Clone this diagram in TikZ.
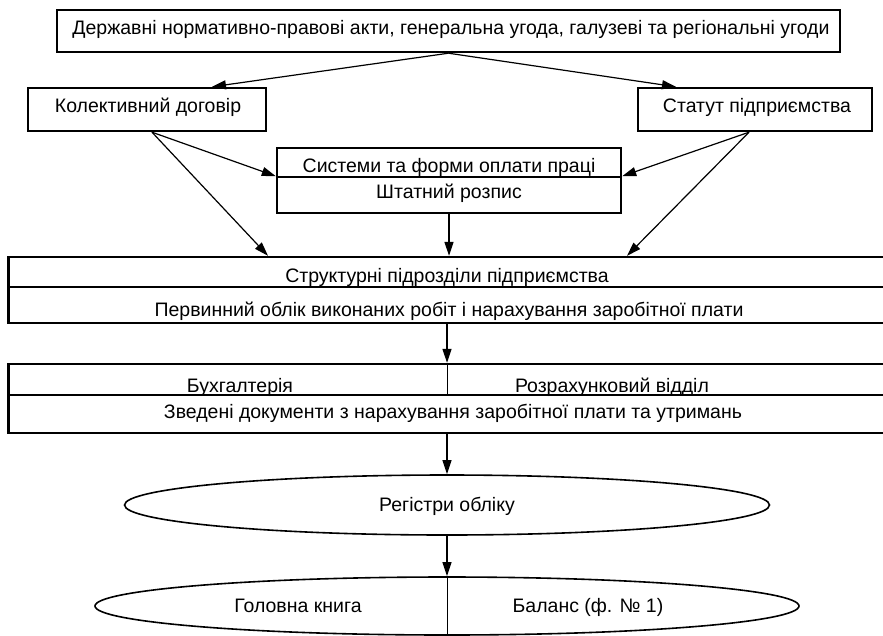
\documentclass[tikz,border=0pt]{standalone}
\usepackage{fontspec}
\setmainfont{Liberation Sans}
\usetikzlibrary{arrows.meta,shapes.geometric}
\begin{document}
\begin{tikzpicture}[x=1pt,y=-1pt,
  box/.style={draw, line width=2.4pt, inner sep=0pt, rectangle},
  ell/.style={draw, ellipse, line width=1.6pt, inner sep=0pt},
  arr/.style={-{Triangle[length=14pt,width=9pt]}, line width=1.2pt},
  divline/.style={line width=1pt},
  txt/.style={inner sep=0pt, anchor=base, font=\fontsize{19.5}{22}\selectfont}]
\useasboundingbox[fill=white] (0,0) rectangle (883,635);
% boxes
\node[box, minimum width=783pt, minimum height=42pt] (top) at (448.5,31) {};
\node[box, minimum width=238pt, minimum height=43pt] (kol) at (147,109.5) {};
\node[box, minimum width=234pt, minimum height=43pt] (stat) at (755,109.5) {};
\node[box, minimum width=344pt, minimum height=29pt] (sys1) at (449,162.5) {};
\node[box, minimum width=344pt, minimum height=36pt] (sys2) at (449,195) {};
\node[box, minimum width=877pt, minimum height=30pt] (str1) at (447,272) {};
\node[box, minimum width=877pt, minimum height=36pt] (str2) at (447,305) {};
\node[box, minimum width=877pt, minimum height=31pt] (buh1) at (447,379.5) {};
\node[box, minimum width=877pt, minimum height=38pt] (buh2) at (447,414) {};
\node[ell, minimum width=645pt, minimum height=60pt] (reg) at (447,505) {};
\node[ell, minimum width=704pt, minimum height=58pt] (gol) at (447,606) {};
% texts
\node[txt] at (451,34) {Державні нормативно-правові акти, генеральна угода, галузеві та регіональні угоди};
\node[txt] at (148,112) {Колективний договір};
\node[txt] at (757,112) {Статут підприємства};
\node[txt] at (449,172) {Системи та форми оплати праці};
\node[txt] at (449,198) {Штатний розпис};
\node[txt] at (447,282) {Структурні підрозділи підприємства};
\node[txt] at (449,316) {Первинний облік виконаних робіт і нарахування заробітної плати};
\node[txt] at (240,392) {Бухгалтерія};
\node[txt] at (612,392) {Розрахунковий відділ};
\node[txt] at (453,418) {Зведені документи з нарахування заробітної плати та утримань};
\node[txt] at (447,511) {Регістри обліку};
\node[txt] at (298,612) {Головна книга};
\node[txt] at (588,612) {Баланс (ф. № 1)};
% dividers
\draw[divline] (buh1.north) -- (buh1.south);
\draw[divline] (gol.north) -- (gol.south);
% arrows
\draw[arr] (top.south) -- ([xshift=65pt]kol.north);
\draw[arr] (top.south) -- ([xshift=-79pt]stat.north);
\draw[arr] ([xshift=5pt]kol.south) -- ([yshift=2pt]sys1.south west);
\draw[arr] ([xshift=5pt]kol.south) -- ([xshift=-179pt]str1.north);
\draw[arr] ([xshift=-6pt]stat.south) -- ([yshift=2pt]sys1.south east);
\draw[arr] ([xshift=-6pt]stat.south) -- ([xshift=180pt]str1.north);
\draw[arr] (sys2.south) -- (sys2.south |- str1.north);
\draw[arr] (str2.south) -- (buh1.north);
\draw[arr] (buh2.south) -- (reg.north);
\draw[arr] (reg.south) -- (gol.north);
\end{tikzpicture}
\end{document}
